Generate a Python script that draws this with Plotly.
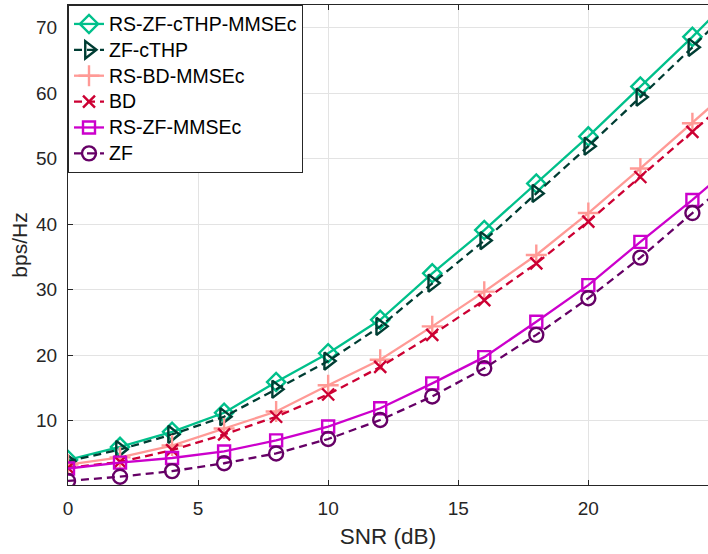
import plotly.graph_objects as go

snr = [0, 2, 4, 6, 8, 10, 12, 14, 16, 18, 20, 22, 24, 26]

rs_zf_cthp_mmsec = [4.0, 6.0, 8.3, 11.2, 15.9, 20.3, 25.4, 32.5, 39.1, 46.2, 53.4, 61.0, 68.6, 76.6]
zf_cthp          = [3.8, 5.6, 7.9, 10.6, 14.8, 19.1, 24.4, 31.0, 37.5, 44.7, 51.9, 59.4, 67.0, 75.0]
rs_bd_mmsec      = [3.3, 4.4, 6.2, 8.8, 11.4, 15.4, 19.3, 24.4, 29.7, 35.3, 41.7, 48.5, 55.4, 62.5]
bd               = [2.8, 3.7, 5.5, 7.9, 10.6, 14.0, 18.2, 23.1, 28.4, 34.0, 40.4, 47.2, 54.1, 61.2]
rs_zf_mmsec      = [2.7, 3.6, 4.3, 5.3, 7.0, 9.1, 11.9, 15.7, 19.7, 25.1, 30.7, 37.3, 43.7, 50.5]
zf               = [0.8, 1.45, 2.3, 3.5, 5.0, 7.2, 10.1, 13.7, 18.0, 23.1, 28.7, 34.9, 41.7, 48.5]

x_ticks = [0, 5, 10, 15, 20]
y_ticks = [10, 20, 30, 40, 50, 60, 70]

series = [
    ("RS-ZF-cTHP-MMSEc", rs_zf_cthp_mmsec, "#00C08B", "solid", "diamond-open", 14),
    ("ZF-cTHP", zf_cthp, "#003D33", "8px,5px", "triangle-right-open", 15),
    ("RS-BD-MMSEc", rs_bd_mmsec, "#FF9A96", "solid", "cross-thin-open", 15),
    ("BD", bd, "#CC0033", "8px,5px", "x-thin-open", 12),
    ("RS-ZF-MMSEc", rs_zf_mmsec, "#CC00CC", "solid", "square-open", 12),
    ("ZF", zf, "#660066", "8px,5px", "circle-open", 14),
]

fig = go.Figure()
for name, ys, color, dash, sym, sz in series:
    fig.add_trace(go.Scatter(
        x=snr, y=ys, name='<span style="font-size:19.5px">' + name + "</span>",
        mode="lines+markers",
        line=dict(color=color, width=2.3, dash=dash),
        marker=dict(symbol=sym, size=sz, color=color, line=dict(color=color, width=2.4)),
    ))

font = "Liberation Sans, Arial, Helvetica, sans-serif"
axcol = "#262626"
gridcol = "#e3e3e3"

fig.update_layout(
    width=708, height=554,
    margin=dict(l=68, r=0, t=5, b=69),
    paper_bgcolor="white", plot_bgcolor="white",
    font=dict(family=font, size=19, color=axcol),
    showlegend=True,
    legend=dict(
        x=0, y=1, xanchor="left", yanchor="top",
        bgcolor="white", bordercolor=axcol, borderwidth=1,
        font=dict(family=font, size=17.6, color="black"),
        tracegroupgap=0,
    ),
    xaxis=dict(
        range=[0, 24.6], tickvals=x_ticks, ticktext=[str(v) for v in x_ticks],
        tickfont=dict(size=19, family=font, color=axcol),
        showgrid=True, gridcolor=gridcol, gridwidth=1, zeroline=False,
        showline=True, linecolor=axcol, linewidth=1, mirror="ticks",
        ticks="inside", ticklen=5, tickcolor=axcol, ticklabelstandoff=6,
        title=dict(text="SNR (dB)", font=dict(size=22.5, family=font, color=axcol), standoff=10),
    ),
    yaxis=dict(
        range=[0.18, 73.46], tickvals=y_ticks,
        tickfont=dict(size=19, family=font, color=axcol),
        showgrid=True, gridcolor=gridcol, gridwidth=1, zeroline=False,
        showline=True, linecolor=axcol, linewidth=1,
        ticks="inside", ticklen=5, tickcolor=axcol, ticklabelstandoff=6,
        title=dict(text="bps/Hz", font=dict(size=21, family=font, color=axcol), standoff=2),
    ),
)

fig.write_html("out.html")
